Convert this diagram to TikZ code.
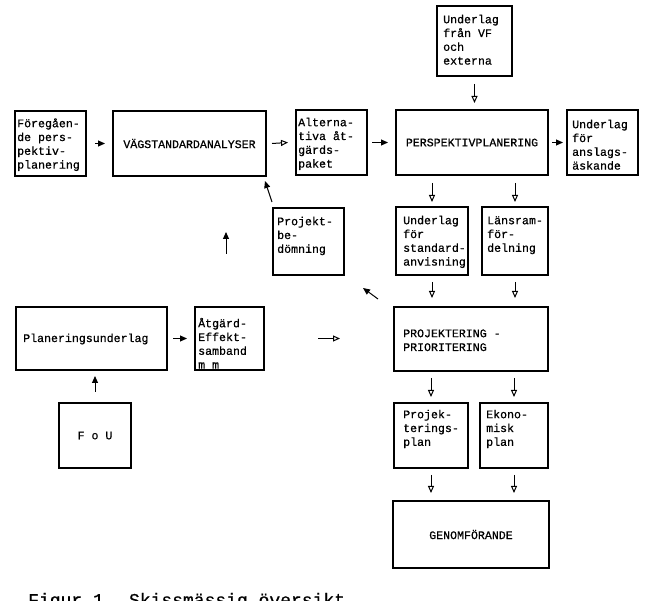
\documentclass[tikz,border=0pt]{standalone}
\usepackage{fontspec}
\newfontfamily\tw[FakeBold=0.6]{Liberation Mono}
\usetikzlibrary{arrows.meta}
\newcommand\Sx{\rule{0pt}{11pt}}
\begin{document}
\begin{tikzpicture}[x=1pt,y=-1pt,
  box/.style={draw, line width=1.1pt, anchor=north west, inner sep=0pt, outer sep=0pt,
              font=\tw\fontsize{11.6}{13.8}\selectfont},
  txt/.style={anchor=north west, inner sep=0pt, align=left,
              font=\tw\fontsize{11.6}{13.8}\selectfont},
  arrF/.style={line width=1pt, -{Triangle[length=7pt,width=6pt]}},
  arrO/.style={line width=1pt, -{Triangle[open,length=7pt,width=6pt]}}]
\fill[white] (0,0) rectangle (654,601);
\useasboundingbox (0,0) rectangle (654,601);

% boxes
\node[box, minimum width=71pt, minimum height=65pt] (foreg) at (15,111) {};
\node[box, minimum width=153pt, minimum height=65pt] (vag) at (113,111) {V\"AGSTANDARDANALYSER};
\node[box, minimum width=71pt, minimum height=65pt] (alt) at (296,110) {};
\node[box, minimum width=152pt, minimum height=65pt] (persp) at (396,110) {PERSPEKTIVPLANERING};
\node[box, minimum width=71pt, minimum height=65pt] (ansl) at (567,110) {};
\node[box, minimum width=75pt, minimum height=70pt] (vf) at (437,6) {};
\node[box, minimum width=72pt, minimum height=68pt] (std) at (396,207) {};
\node[box, minimum width=66pt, minimum height=68pt] (lans) at (482,207) {};
\node[box, minimum width=71pt, minimum height=67pt] (bed) at (273,208) {};
\node[box, minimum width=154pt, minimum height=64pt] (proj) at (394,307) {};
\node[box, minimum width=74pt, minimum height=65pt] (pplan) at (394,403) {};
\node[box, minimum width=68pt, minimum height=65pt] (ekon) at (480,403) {};
\node[box, minimum width=156pt, minimum height=67pt] (gen) at (393,501) {GENOMF\"ORANDE};
\node[box, minimum width=151pt, minimum height=63pt] (plan) at (16,307) {};
\node[box, minimum width=69pt, minimum height=63pt] (atg) at (195,307) {};
\node[box, minimum width=72pt, minimum height=65pt] (fou) at (59,403) {F o U};

% texts
\node[txt] (foregT) at (17,116) {\Sx F\"oreg\aa en-\\de pers-\\pektiv-\\planering};
\node[txt] (altT) at (298,115) {\Sx Alterna-\\tiva \aa t-\\g\"ards-\\paket};
\node[txt] (vfT) at (443,12) {\Sx Underlag\\fr\aa n VF\\och\\externa};
\node[txt] (anslT) at (572,117) {\Sx Underlag\\f\"or\\anslags-\\\"askande};
\node[txt] (stdT) at (403,213) {\Sx Underlag\\f\"or\\standard-\\anvisning};
\node[txt] (lansT) at (487,213) {\Sx L\"ansram-\\f\"or-\\delning};
\node[txt] (bedT) at (277,214) {\Sx Projekt-\\be-\\d\"omning};
\node[txt] (projT) at (403,326) {\Sx PROJEKTERING -\\PRIORITERING};
\node[txt] (pplanT) at (403,407) {\Sx Projek-\\terings-\\plan};
\node[txt] (ekonT) at (486,407) {\Sx Ekono-\\misk\\plan};
\node[txt] (atgT) at (198,316) {\Sx \AA tg\"ard-\\Effekt-\\samband\\m m};
\node[txt, anchor=west] (planT) at (23,339) {Planeringsunderlag};

% horizontal arrows
\draw[arrF] ([xshift=9pt]foreg.east) -- ([xshift=-8pt]vag.west);
\draw[arrO] ([xshift=6pt]vag.east) -- ([xshift=-8pt]alt.west);
\draw[arrF] ([xshift=5pt]alt.east) -- ([xshift=-8pt]persp.west);
\draw[arrF] ([xshift=4pt]persp.east) -- ([xshift=-4pt]ansl.west);
\draw[arrF] ([xshift=6pt]plan.east) -- ([xshift=-8pt]plan.east -| atg.west);
\draw[arrO] ([xshift=54pt]atg.east) -- ([xshift=-54pt]atg.east -| proj.west);

% vertical arrows
\draw[arrO] ([yshift=-8pt]vf.south) -- ([yshift=7pt]vf.south |- persp.north);
\draw[arrO] ([yshift=-8pt]std.north |- persp.south) -- ([yshift=5pt]std.north);
\draw[arrO] ([yshift=-8pt]lans.north |- persp.south) -- ([yshift=5pt]lans.north);
\draw[arrO] ([yshift=-7pt]std.south) -- ([yshift=9pt]std.south |- proj.north);
\draw[arrO] ([yshift=-7pt]lans.south) -- ([yshift=9pt]lans.south |- proj.north);
\draw[arrO] ([yshift=-7pt]pplan.north |- proj.south) -- ([yshift=6pt]pplan.north);
\draw[arrO] ([yshift=-7pt]ekon.north |- proj.south) -- ([yshift=6pt]ekon.north);
\draw[arrO] ([yshift=-7pt]pplan.south) -- ([yshift=8pt]pplan.south |- gen.north);
\draw[arrO] ([yshift=-7pt]ekon.south) -- ([yshift=8pt]ekon.south |- gen.north);
\draw[arrF] ([yshift=11pt]fou.north) -- ([yshift=-6pt]fou.north |- plan.south);

% free and diagonal arrows
\coordinate (u1) at (226,254);
\coordinate (u2) at (226,232);
\draw[arrF] (u1) -- (u2);
\draw[arrF] ([shift={(-1pt,6pt)}]bed.north west) -- ([shift={(-1pt,-5pt)}]vag.south east);
\draw[arrF] ([shift={(-16pt,8pt)}]proj.north west) -- ([shift={(19pt,-13pt)}]bed.south east);

% caption (cut at the bottom edge, as in the reference)
\node[anchor=base west, inner sep=0pt, font=\tw\fontsize{18}{20}\selectfont] (cap) at (28,606) {Figur 1. Skissm\"assig \"oversikt};
\end{tikzpicture}
\end{document}
